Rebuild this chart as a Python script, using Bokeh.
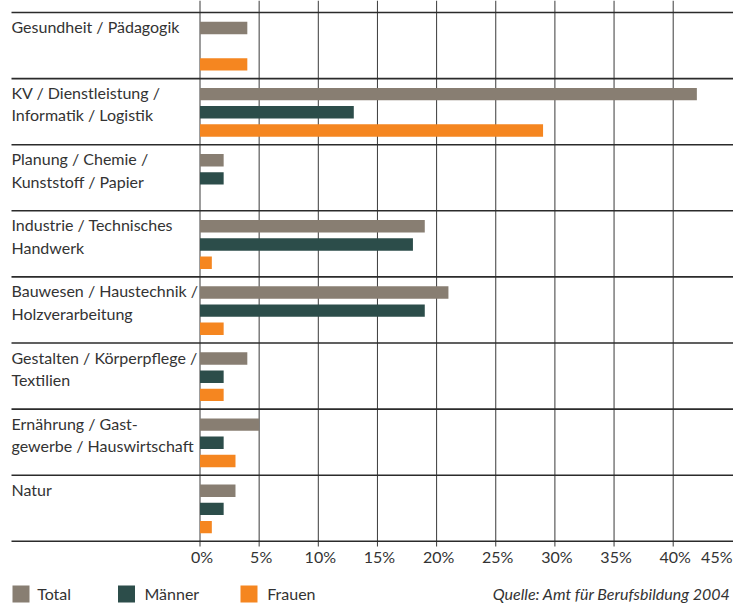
import numpy as np
from bokeh.plotting import figure
from bokeh.models import Range1d
from bokeh.core.properties import value
from bokeh.embed import file_html
from bokeh.resources import INLINE

# ---------------- data ----------------
categories = [
    "Gesundheit / Pädagogik",
    "KV / Dienstleistung /\nInformatik / Logistik",
    "Planung / Chemie /\nKunststoff / Papier",
    "Industrie / Technisches\nHandwerk",
    "Bauwesen / Haustechnik /\nHolzverarbeitung",
    "Gestalten / Körperpflege /\nTextilien",
    "Ernährung / Gast-\ngewerbe / Hauswirtschaft",
    "Natur",
]
series_names = ["Total", "Männer", "Frauen"]
total = [4, 42, 2, 19, 21, 4, 5, 3]
maenner = [0, 13, 2, 18, 19, 2, 2, 2]
frauen = [4, 29, 0, 1, 2, 2, 3, 1]
tick_values = [0, 5, 10, 15, 20, 25, 30, 35, 40, 45]
tick_labels = ["0%", "5%", "10%", "15%", "20%", "25%", "30%", "35%", "40%", "45%"]
source_note = "Quelle: Amt für Berufsbildung 2004"

# ---------------- style / layout ----------------
colors = ["#887e72", "#2c4d4a", "#f58620"]
FONT = "Lato"
TEXT = "#333333"
W, H = 733, 604
X0, PX_PER_PCT = 199.5, 11.83      # px of 0 %, px per percent
Y0, GROUP_PX = 12.0, 66.1          # px of first separator, px per group
TXT_SHIFT = -8.0                   # compensate baseline placement of text glyphs


def xv(px):
    return (px - X0) / PX_PER_PCT


def yv(py):
    return (py - Y0) / GROUP_PX


p = figure(
    width=W, height=H, output_backend="svg", toolbar_location=None,
    x_range=Range1d(xv(0), xv(W)),
    y_range=Range1d(yv(H), yv(0)),
    x_axis_type=None, y_axis_type=None, min_border=0,
    outline_line_color=None, background_fill_color="white",
)
p.grid.visible = False

n = len(categories)
idx = np.arange(n)

# vertical grid lines (0 .. 40 %)
grid_ticks = tick_values[:-1]
p.segment(x0=grid_ticks, x1=grid_ticks, y0=yv(0), y1=yv(546),
          line_color="#3a3a3a", line_width=1)

# horizontal separators between groups
seps = list(range(n + 1))
p.segment(x0=xv(11), x1=xv(733), y0=seps, y1=seps,
          line_color="#2b2b2b", line_width=1.6)

# bars
offsets = [0.235, 0.51, 0.785]
BAR_H = 0.188
for vals, off, col in zip([total, maenner, frauen], offsets, colors):
    p.hbar(y=idx + off, left=0, right=vals, height=BAR_H,
           fill_color=col, line_color=None)

# category labels
line1 = [c.split("\n")[0] for c in categories]
line2 = [c.split("\n")[1] if "\n" in c else "" for c in categories]
common = dict(text_font=value(FONT), text_font_size="16px", text_color=TEXT,
              text_baseline="alphabetic", text_align="left")
p.text(x=xv(11), y=idx + (22.0 + TXT_SHIFT) / GROUP_PX, text=line1, **common)
p.text(x=xv(11), y=idx + (44.3 + TXT_SHIFT) / GROUP_PX, text=line2, **common)

# tick labels
tk = dict(text_font=value(FONT), text_font_size="16px", text_color=TEXT,
          text_baseline="alphabetic")
p.text(x=tick_values[:-1], y=yv(563.5 + TXT_SHIFT), text=tick_labels[:-1],
       text_align="center", x_offset=2, **tk)
p.text(x=[xv(732)], y=yv(563.5 + TXT_SHIFT), text=[tick_labels[-1]],
       text_align="right", **tk)

# legend
leg_sq_px = [20.5, 126.0, 248.5]
leg_tx_px = [36.7, 144.0, 266.7]
p.scatter(x=[xv(v) for v in leg_sq_px], y=yv(593.5), marker="square", size=17,
          fill_color=colors, line_color=None)
p.text(x=[xv(v) for v in leg_tx_px], y=yv(601 + TXT_SHIFT), text=series_names,
       text_font=value(FONT), text_font_size="16px", text_color=TEXT,
       text_baseline="alphabetic", text_align="left")

# source
p.text(x=[xv(730)], y=yv(600.5 + TXT_SHIFT), text=[source_note], text_font=value(FONT),
       text_font_size="16px", text_font_style="italic", text_color=TEXT,
       text_baseline="alphabetic", text_align="right")

open("out.html", "w").write(file_html(p, INLINE))
